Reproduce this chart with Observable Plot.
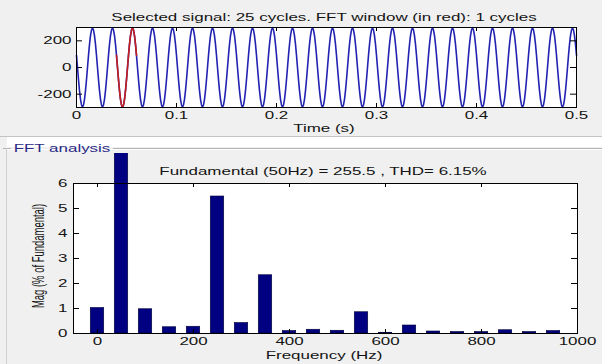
<!DOCTYPE html>
<html><head><meta charset="utf-8">
<script src="https://cdn.jsdelivr.net/npm/d3@7"></script>
<script src="https://cdn.jsdelivr.net/npm/@observablehq/plot@0.6"></script>
<style>
html,body{margin:0;padding:0;}
body{width:602px;height:364px;background:#f0f0f0;position:relative;overflow:hidden;font-family:"Liberation Sans",Arial,sans-serif;}
.t{position:absolute;white-space:nowrap;font-size:11px;line-height:1;color:#141414;transform:translate(-50%,-50%) scaleX(1.54);}
.rot{position:absolute;white-space:nowrap;font-size:11px;line-height:1;color:#141414;transform:translate(-50%,-50%) scale(1.5,0.86) rotate(-90deg);}
.box{position:absolute;}
</style></head><body>
<div class="box" style="left:0;top:136px;width:602px;height:1px;background:#c4c4c4"></div>
<div class="box" style="left:7px;top:137px;width:595px;height:10px;background:#ffffff"></div>
<div class="box" style="left:3px;top:148px;width:8px;height:1px;background:#b4b4b4"></div>
<div class="box" style="left:113px;top:148px;width:489px;height:1px;background:#b4b4b4"></div>
<div class="box" style="left:7px;top:149px;width:595px;height:1px;background:#ffffff"></div>
<div class="box" style="left:6px;top:148px;width:1px;height:216px;background:#d0d0d0"></div>
<div id="top" class="box" style="left:0;top:0"></div>
<div id="bot" class="box" style="left:0;top:153px"></div>
<div class="t" style="left:324px;top:16.5px">Selected signal: 25 cycles. FFT window (in red): 1 cycles</div>
<div class="t" style="left:324px;top:127.5px">Time (s)</div>
<div class="t" style="left:62px;top:147.5px;color:#2a2a86">FFT analysis</div>
<div class="t" style="left:323px;top:171.3px">Fundamental (50Hz) = 255.5 , THD= 6.15%</div>
<div class="t" style="left:324px;top:354.5px">Frequency (Hz)</div>
<div class="rot" style="left:39px;top:256px">Mag (% of Fundamental)</div>
<script>
// ---- data ----
const timeTicks = [0, 0.1, 0.2, 0.3, 0.4, 0.5];
const signalTicks = [-200, 0, 200];
const freqTicks = [0, 200, 400, 600, 800, 1000];
const magTicks = [0, 1, 2, 3, 4, 5, 6];

const cycleValues = [91, 0, -91, -173, -239, -281, -298, -281, -239, -173, -91, 0, 91, 173, 239, 281, 298, 281, 239, 173];
const sampleStep = 0.001;
const cycleCount = 25;
const fftWindow = [0.04, 0.06];

const harmonicFreqs = [0, 50, 100, 150, 200, 250, 300, 350, 400, 450, 500, 550, 600, 650, 700, 750, 800, 850, 900, 950];
const harmonicMags = [1.02, 100, 0.97, 0.25, 0.27, 5.48, 0.42, 2.33, 0.10, 0.15, 0.11, 0.85, 0.03, 0.32, 0.08, 0.06, 0.06, 0.13, 0.06, 0.10];

// ---- tables ----
const signal = [];
for (let c = 0; c < cycleCount; c++) {
  cycleValues.forEach((v, k) => signal.push({t: +(c * cycleValues.length * sampleStep + k * sampleStep).toFixed(4), v}));
}
signal.push({t: cycleCount * cycleValues.length * sampleStep, v: cycleValues[0]});
const windowSignal = signal.filter(d => d.t >= fftWindow[0] - 1e-9 && d.t <= fftWindow[1] + 1e-9);
const bars = harmonicFreqs.map((f, i) => ({f, m: harmonicMags[i]}));

const font = {fontFamily: '"Liberation Sans", Arial, sans-serif', fontSize: "11px", background: "transparent", overflow: "hidden", color: "#141414"};

function ticks(xt, yt, fw, fh, lx, ly) {
  return [
    Plot.tickX(xt, {x: d => d, insetTop: fh - lx, stroke: "#000"}),
    Plot.tickX(xt, {x: d => d, insetBottom: fh - lx, stroke: "#000"}),
    Plot.tickY(yt, {y: d => d, insetRight: fw - ly, stroke: "#000"}),
    Plot.tickY(yt, {y: d => d, insetLeft: fw - ly, stroke: "#000"})
  ];
}
function stretch(svg) {
  svg.querySelectorAll("text").forEach(t => {
    const tr = t.getAttribute("transform") || "";
    t.setAttribute("transform", tr + " scale(1.54,1)");
  });
  return svg;
}

// ---- top: time signal ----
const tW = 602, tH = 136, tL = 76, tR = 26, tT = 27, tB = 29;
const topPlot = Plot.plot({
  width: tW, height: tH, marginLeft: tL, marginRight: tR, marginTop: tT, marginBottom: tB,
  style: font,
  x: {domain: [0, 0.5]},
  y: {domain: [-300, 300]},
  marks: [
    Plot.frame({fill: "white", stroke: null}),
    Plot.line(signal, {x: "t", y: "v", stroke: "#2323b2", strokeWidth: 1.6}),
    Plot.line(windowSignal, {x: "t", y: "v", stroke: "#c41e1e", strokeWidth: 1.6}),
    ...ticks(timeTicks, signalTicks, tW - tL - tR, tH - tT - tB, 4, 6),
    Plot.frame({stroke: "#000"}),
    Plot.axisX(timeTicks, {tickSize: 0, tickPadding: 4, tickFormat: d => String(d), label: null}),
    Plot.axisY(signalTicks, {tickSize: 0, tickPadding: 5, tickFormat: d => String(d), label: null})
  ]
});
document.getElementById("top").appendChild(stretch(topPlot));

// ---- bottom: FFT bars ----
const bW = 602, bH = 211, bL = 73, bR = 25, bT = 30, bB = 31;
const barHalf = 14;
const botPlot = Plot.plot({
  width: bW, height: bH, marginLeft: bL, marginRight: bR, marginTop: bT, marginBottom: bB,
  style: font,
  x: {domain: [-50, 1000]},
  y: {domain: [0, 6]},
  marks: [
    Plot.frame({fill: "white", stroke: null}),
    Plot.rect(bars, {x1: d => d.f - barHalf, x2: d => d.f + barHalf, y1: 0, y2: "m", fill: "#000080", stroke: "#00003a", strokeWidth: 0.6}),
    ...ticks(freqTicks, magTicks, bW - bL - bR, bH - bT - bB, 4, 6),
    Plot.frame({stroke: "#000"}),
    Plot.axisX(freqTicks, {tickSize: 0, tickPadding: 4, tickFormat: d => String(d), label: null}),
    Plot.axisY(magTicks, {tickSize: 0, tickPadding: 6, tickFormat: d => String(d), label: null})
  ]
});
document.getElementById("bot").appendChild(stretch(botPlot));
</script>
</body></html>
